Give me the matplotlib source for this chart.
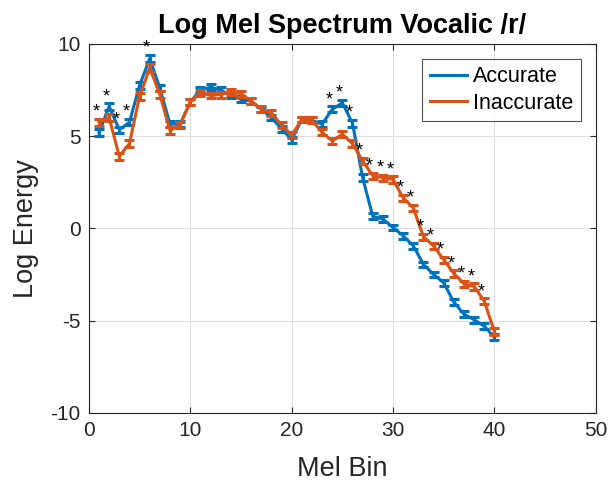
import matplotlib
matplotlib.use("Agg")
import matplotlib.pyplot as plt
from matplotlib.lines import Line2D

# Mel bins 1..40
mel_bins = list(range(1, 41))

accurate = [5.2, 6.6, 5.35, 5.75, 7.75, 9.2, 7.6, 5.65, 5.65, 6.85,
            7.5, 7.65, 7.5, 7.2, 7.0, 6.9, 6.45, 6.0, 5.4, 4.8,
            5.9, 5.85, 5.65, 6.45, 6.8, 5.7, 2.75, 0.65, 0.5, 0.05,
            -0.4, -0.95, -1.95, -2.5, -2.95, -4.0, -4.65, -4.95, -5.3, -5.9]
accurate_err = [0.18, 0.18, 0.17, 0.17, 0.18, 0.2, 0.18, 0.17, 0.16, 0.16,
                0.15, 0.15, 0.15, 0.15, 0.15, 0.15, 0.15, 0.15, 0.15, 0.16,
                0.16, 0.16, 0.16, 0.17, 0.17, 0.18, 0.2, 0.16, 0.16, 0.15,
                0.15, 0.15, 0.15, 0.15, 0.15, 0.15, 0.15, 0.15, 0.15, 0.16]

inaccurate = [5.75, 6.0, 3.9, 4.6, 7.15, 8.7, 7.25, 5.3, 5.6, 6.85,
              7.35, 7.2, 7.25, 7.4, 7.3, 6.9, 6.45, 6.25, 5.6, 5.05,
              5.9, 5.85, 5.2, 4.75, 5.1, 4.6, 3.65, 2.85, 2.75, 2.65,
              1.65, 1.1, -0.45, -0.95, -1.7, -2.45, -3.0, -3.15, -3.95, -5.6]
inaccurate_err = [0.2, 0.2, 0.2, 0.2, 0.2, 0.2, 0.2, 0.2, 0.18, 0.17,
                  0.16, 0.16, 0.16, 0.16, 0.16, 0.16, 0.16, 0.16, 0.16, 0.16,
                  0.16, 0.16, 0.16, 0.17, 0.17, 0.17, 0.18, 0.17, 0.17, 0.17,
                  0.17, 0.17, 0.17, 0.17, 0.17, 0.17, 0.17, 0.17, 0.17, 0.2]

# bins with a significant difference between groups
significant_bins = [1, 2, 3, 4, 6, 24, 25, 26, 27, 28, 29, 30, 31, 32,
                    33, 34, 35, 36, 37, 38, 39]

x_ticks = [0, 10, 20, 30, 40, 50]
y_ticks = [-10, -5, 0, 5, 10]

blue = "#0072BD"
orange = "#D95319"
axis_gray = "#262626"

plt.rcParams["font.family"] = ["Liberation Sans", "DejaVu Sans"]
plt.rcParams["axes.unicode_minus"] = False

fig = plt.figure(figsize=(6.13, 4.87), dpi=100)
ax = fig.add_axes([0.145, 0.152, 0.827, 0.758])

ax.errorbar(mel_bins, accurate, yerr=accurate_err, color=blue, lw=2.2,
            elinewidth=2.2, capsize=3.8, capthick=2.2, zorder=3)
ax.errorbar(mel_bins, inaccurate, yerr=inaccurate_err, color=orange, lw=2.2,
            elinewidth=2.2, capsize=3.8, capthick=2.2, zorder=4)

for b in significant_bins:
    i = b - 1
    top = max(accurate[i] + accurate_err[i], inaccurate[i] + inaccurate_err[i])
    ax.text(b - 0.3, top - 0.1, "*", ha="center", va="bottom", fontsize=13,
            color="black", zorder=5)

ax.set_xlim(0, 50)
ax.set_ylim(-10, 10)
ax.set_xticks(x_ticks)
ax.set_yticks(y_ticks)
ax.grid(True, color="#dfdfdf", lw=0.8)
ax.set_axisbelow(True)

for s in ax.spines.values():
    s.set_color(axis_gray)
    s.set_linewidth(0.8)
ax.tick_params(direction="in", top=True, right=True, length=4, width=0.8,
               colors=axis_gray, labelsize=15, pad=6)

ax.set_xlabel("Mel Bin", fontsize=19.5, color=axis_gray, labelpad=11)
ax.set_ylabel("Log Energy", fontsize=19.5, color=axis_gray, labelpad=8)
ax.set_title("Log Mel Spectrum Vocalic /r/", fontsize=19.5, fontweight="bold",
             color="black", pad=8)

handles = [Line2D([], [], color=blue, lw=2.2),
           Line2D([], [], color=orange, lw=2.2)]
leg = ax.legend(handles, ["Accurate", "Inaccurate"], loc="upper right",
                fontsize=15.5, frameon=True, fancybox=False,
                borderpad=0.35, handlelength=1.7, handletextpad=0.3,
                labelspacing=0.25, borderaxespad=0.7)
leg.get_frame().set_edgecolor(axis_gray)
leg.get_frame().set_linewidth(0.8)

fig.savefig("out.png", dpi=100)
